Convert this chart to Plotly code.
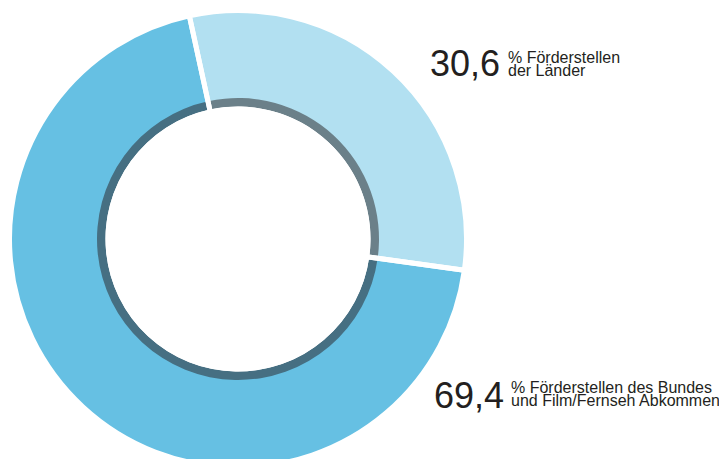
import plotly.graph_objects as go

labels = ["Förderstellen der Länder", "Förderstellen des Bundes und Film/Fernseh Abkommen"]
values = [30.6, 69.4]
value_text = ["30,6", "69,4"]
line1 = ["% Förderstellen", "% Förderstellen des Bundes"]
line2 = ["der Länder", "und Film/Fernseh Abkommen"]

OFF = 8                    # page body margin
W, H = 727, 462
CX, CY = 238 - OFF, 239 - OFF   # centre in px (div coords)
R_OUT = 228.5              # outer pie radius (white stroke eats 2.5px)
R_RING = 141               # dark inner ring outer radius
R_RING_IN = 132.5
ROT = -12.3

def dom(r):
    return dict(x=[max(0, (CX - r) / W), (CX + r) / W],
                y=[max(0, 1 - (CY + r) / H), min(1, 1 - (CY - r) / H)])

outer_colors = ["#b2e0f1", "#66c0e3"]
ring_colors = ["#6b8089", "#466f82"]

fig = go.Figure()
fig.add_trace(go.Pie(values=values, labels=labels, sort=False, direction="clockwise",
                     rotation=ROT, hole=140 / R_OUT, domain=dom(R_OUT),
                     marker=dict(colors=outer_colors, line=dict(width=0)),
                     textinfo="none", hoverinfo="label+value", showlegend=False))
fig.add_trace(go.Pie(values=values, labels=labels, sort=False, direction="clockwise",
                     rotation=ROT, hole=R_RING_IN / R_RING, domain=dom(R_RING),
                     marker=dict(colors=ring_colors, line=dict(width=0)),
                     textinfo="none", hoverinfo="skip", showlegend=False))
fig.add_trace(go.Pie(values=values, labels=labels, sort=False, direction="clockwise",
                     rotation=ROT, hole=130 / R_OUT, domain=dom(R_OUT),
                     marker=dict(colors=["rgba(0,0,0,0)"] * 2, line=dict(width=5, color="white")),
                     textinfo="none", hoverinfo="skip", showlegend=False))

FONT = "Liberation Sans, Arial, sans-serif"
txt_color = "#231f20"
pos = [
    dict(nx=428, ny=77, sx=506, top=47),
    dict(nx=432, ny=409, sx=509, top=377),
]
ann = []
for i in range(2):
    p = pos[i]
    ann.append(dict(text=value_text[i], x=(p["nx"] - OFF) / W, y=1 - (p["ny"] - OFF) / H,
                    xref="paper", yref="paper", xanchor="left", yanchor="bottom",
                    showarrow=False, yshift=-9,
                    font=dict(family=FONT, size=36, color=txt_color)))
    small = ("<span style='font-size:16px'>" + line1[i] + "</span><br>"
             "<span style='font-size:16px'>" + line2[i] + "</span>")
    ann.append(dict(text=small, x=(p["sx"] - OFF) / W, y=1 - (p["top"] - OFF) / H,
                    xref="paper", yref="paper", xanchor="left", yanchor="top", align="left",
                    showarrow=False,
                    font=dict(family=FONT, size=10, color=txt_color)))

fig.update_layout(width=W, height=H, margin=dict(l=0, r=0, t=0, b=0),
                  paper_bgcolor="white", plot_bgcolor="white", annotations=ann)
fig.write_html("out.html")
